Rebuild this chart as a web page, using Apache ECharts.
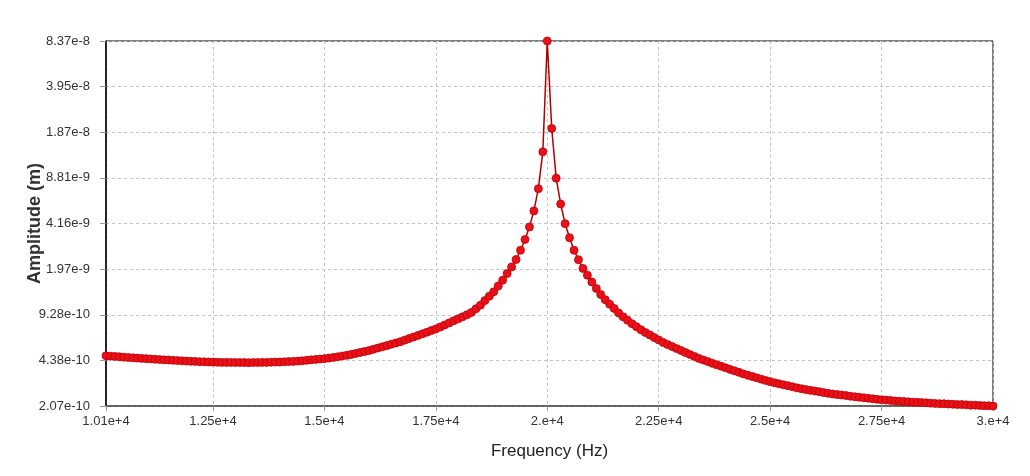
<!DOCTYPE html>
<html>
<head>
<meta charset="utf-8">
<script src="https://cdn.jsdelivr.net/npm/echarts@6/dist/echarts.min.js"></script>
<style>
  html, body { margin: 0; padding: 0; background: #fff; }
  #chart { width: 1030px; height: 476px; }
</style>
</head>
<body>
<div id="chart"></div>
<script>
// sweep: 10100 Hz .. 30000 Hz in 100 Hz steps
const freqStart = 10100
const freqStep = 100

// amplitude in units of 1e-10 m, one value per step
const amplitudeE10 = [
  4.73, 4.70, 4.68, 4.65, 4.62, 4.60, 4.57, 4.55, 4.53, 4.51,
  4.49, 4.46, 4.44, 4.42, 4.41, 4.39, 4.37, 4.35, 4.33, 4.32,
  4.31, 4.29, 4.28, 4.27, 4.26, 4.25, 4.24, 4.24, 4.24, 4.23,
  4.23, 4.23, 4.22, 4.23, 4.23, 4.24, 4.24, 4.25, 4.26, 4.26,
  4.28, 4.30, 4.31, 4.33, 4.35, 4.39, 4.42, 4.45, 4.48, 4.51,
  4.55, 4.60, 4.65, 4.71, 4.76, 4.83, 4.91, 4.99, 5.07, 5.15,
  5.26, 5.37, 5.48, 5.59, 5.71, 5.83, 5.95, 6.11, 6.27, 6.44,
  6.61, 6.78, 6.96, 7.15, 7.35, 7.59, 7.85, 8.12, 8.40, 8.68,
  8.97, 9.28, 9.65, 10.24, 10.85, 11.71, 12.60, 13.55, 14.91, 16.38,
  18.28, 20.38, 23.02, 26.83, 31.99, 39.36, 51.22, 73.80, 135.2, 837,
  198.7, 87.70, 57.38, 41.49, 32.95, 26.83, 22.94, 19.89, 17.78, 15.90,
  14.31, 12.94, 11.88, 11.05, 10.30, 9.56, 8.97, 8.48, 8.02, 7.62,
  7.25, 6.93, 6.66, 6.38, 6.13, 5.88, 5.68, 5.50, 5.32, 5.16,
  4.99, 4.83, 4.68, 4.53, 4.41, 4.30, 4.18, 4.08, 3.98, 3.88,
  3.78, 3.69, 3.60, 3.51, 3.43, 3.36, 3.29, 3.22, 3.15, 3.09,
  3.03, 2.98, 2.93, 2.89, 2.84, 2.79, 2.75, 2.71, 2.68, 2.65,
  2.62, 2.58, 2.55, 2.52, 2.50, 2.48, 2.46, 2.43, 2.41, 2.39,
  2.37, 2.35, 2.33, 2.31, 2.29, 2.28, 2.27, 2.25, 2.24, 2.23,
  2.22, 2.20, 2.20, 2.19, 2.18, 2.17, 2.16, 2.15, 2.15, 2.14,
  2.13, 2.12, 2.12, 2.11, 2.10, 2.10, 2.09, 2.08, 2.08, 2.07
]

const xTickValues = [10100, 12500, 15000, 17500, 20000, 22500, 25000, 27500, 30000]
const xTickLabels = ['1.01e+4', '1.25e+4', '1.5e+4', '1.75e+4', '2.e+4', '2.25e+4', '2.5e+4', '2.75e+4', '3.e+4']

// y ticks, also in 1e-10 m
const yTickValues = [2.07, 4.38, 9.28, 19.7, 41.6, 88.1, 187, 395, 837]
const yTickLabels = ['2.07e-10', '4.38e-10', '9.28e-10', '1.97e-9', '4.16e-9', '8.81e-9', '1.87e-8', '3.95e-8', '8.37e-8']

const points = amplitudeE10.map((v, i) => [freqStart + i * freqStep, v])

function nearestLabel(values, labels, v, log) {
  let best = 0
  let bestDist = Infinity
  values.forEach((t, i) => {
    const d = log ? Math.abs(Math.log(t) - Math.log(v)) : Math.abs(t - v)
    if (d < bestDist) { bestDist = d; best = i }
  })
  return labels[best]
}

const labelFont = 'Liberation Sans, Arial, sans-serif'
const gridLine = { show: true, lineStyle: { type: [3, 3], color: '#c4c4c4', width: 1 } }

const chart = echarts.init(document.getElementById('chart'))
chart.setOption({
  animation: false,
  backgroundColor: '#fff',
  grid: {
    left: 106,
    right: 37,
    top: 41,
    bottom: 70,
    containLabel: false,
    show: true,
    borderColor: '#000',
    borderWidth: 1
  },
  xAxis: {
    type: 'value',
    min: 10100,
    max: 30000,
    name: 'Frequency (Hz)',
    nameLocation: 'middle',
    nameGap: 37,
    nameMoveOverlap: false,
    nameTextStyle: { fontFamily: labelFont, fontSize: 17, color: '#222' },
    axisLine: { lineStyle: { color: '#555', width: 1.5 } },
    axisTick: { show: true, length: 5, customValues: xTickValues, lineStyle: { color: '#999' } },
    axisLabel: {
      customValues: xTickValues,
      margin: 9,
      fontFamily: labelFont,
      fontSize: 13,
      color: '#333',
      formatter: v => nearestLabel(xTickValues, xTickLabels, v, false)
    },
    splitLine: gridLine
  },
  yAxis: {
    type: 'log',
    logBase: 10,
    min: 2.07,
    max: 837,
    name: 'Amplitude (m)',
    nameLocation: 'middle',
    nameGap: 62,
    nameRotate: 90,
    nameMoveOverlap: false,
    nameTextStyle: { fontFamily: labelFont, fontSize: 18, fontWeight: 'bold', color: '#333' },
    axisLine: { show: true, lineStyle: { color: '#000', width: 1.5 } },
    axisTick: { show: true, length: 6, customValues: yTickValues, lineStyle: { color: '#999' } },
    axisLabel: {
      customValues: yTickValues,
      margin: 16,
      fontFamily: labelFont,
      fontSize: 13,
      color: '#333',
      formatter: v => nearestLabel(yTickValues, yTickLabels, v, true)
    },
    splitLine: gridLine
  },
  series: [
    {
      type: 'line',
      data: points,
      symbol: 'circle',
      symbolSize: 8,
      showSymbol: true,
      showAllSymbol: true,
      clip: false,
      lineStyle: { color: '#b00000', width: 1.5 },
      itemStyle: { color: '#e8101a', borderColor: '#c00000', borderWidth: 0.8 }
    }
  ]
})
</script>
</body>
</html>
